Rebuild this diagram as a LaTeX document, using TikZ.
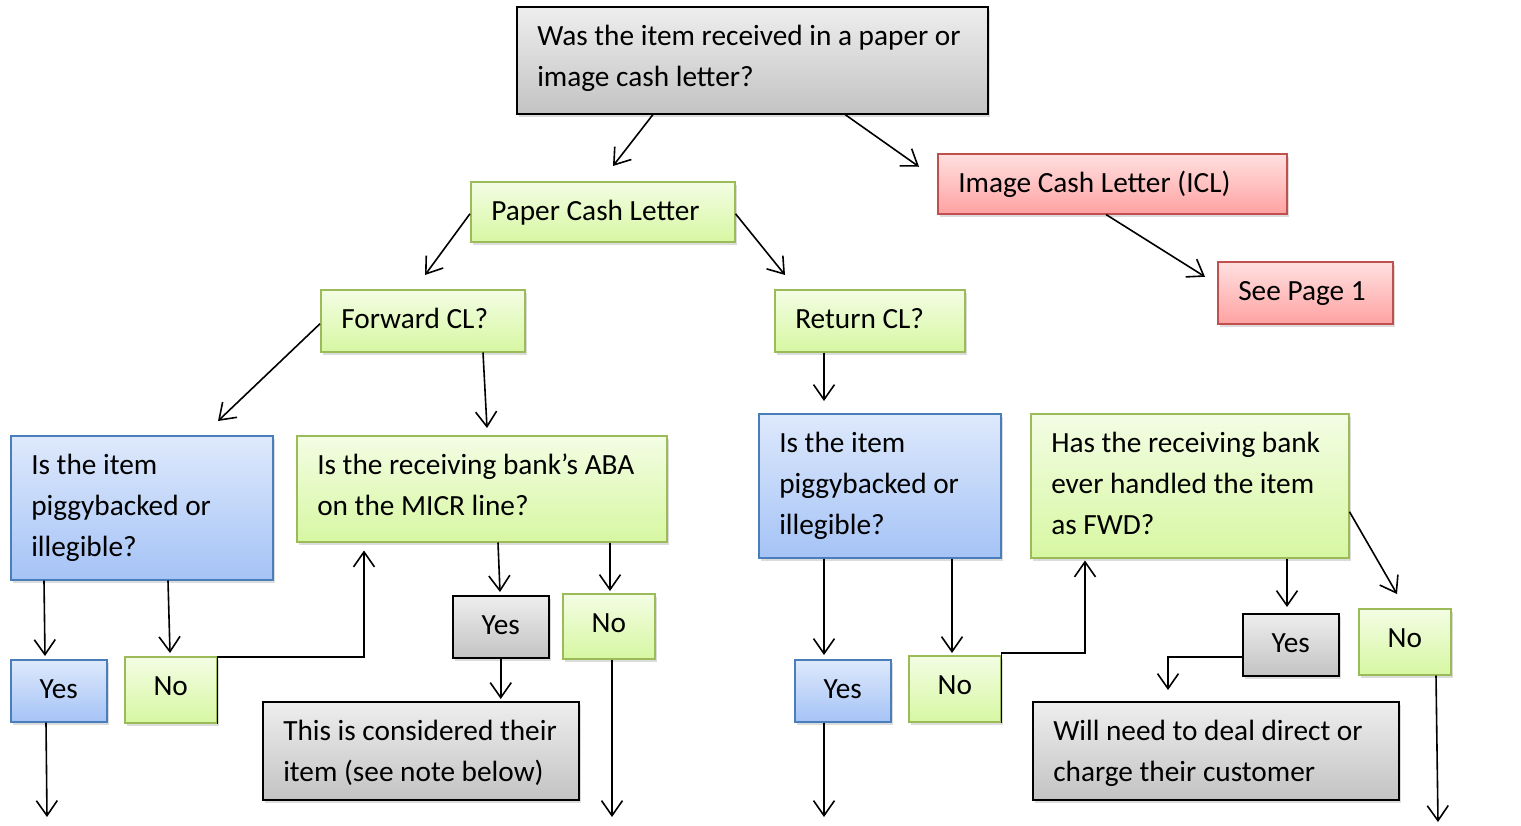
\documentclass[tikz,border=0pt]{standalone}
\usepackage{fontspec}
\setmainfont{Carlito}
\usetikzlibrary{arrows.meta,shadows,calc}
\definecolor{graytop}{HTML}{EEEEEE}
\definecolor{graybot}{HTML}{C3C3C3}
\definecolor{greentop}{HTML}{F3FDE4}
\definecolor{greenbot}{HTML}{D7F7A2}
\definecolor{greenline}{HTML}{9BBB59}
\definecolor{bluetop}{HTML}{DEE9FC}
\definecolor{bluebot}{HTML}{A5C3F6}
\definecolor{blueline}{HTML}{4A7EBB}
\definecolor{redtop}{HTML}{FFE0E0}
\definecolor{redbot}{HTML}{FFA2A2}
\definecolor{redline}{HTML}{C0504D}
\newcommand\dfont{\fontsize{29.3}{41}\selectfont}
\newcommand\tl[1]{\mbox{\spaceskip=0pt\xspaceskip=0pt #1}}
\tikzset{
  base/.style={rectangle, line width=1.5pt, font=\dfont, inner xsep=20.5pt, inner ysep=0pt,
    anchor=north west, drop shadow={shadow xshift=2.5pt, shadow yshift=-3pt, opacity=0.28}},
  lbox/.style 2 args={base, minimum width=#1pt, minimum height=#2pt, text width=#1pt-41pt, align=left,
    text height=39pt, text depth=#2pt-39pt},
  cbox/.style 2 args={base, minimum width=#1pt, minimum height=#2pt, align=center, inner xsep=2pt,
    text height=39pt, text depth=#2pt-39pt},
  grayb/.style={draw=black, top color=graytop, bottom color=graybot},
  greenb/.style={draw=greenline, top color=greentop, bottom color=greenbot},
  blueb/.style={draw=blueline, top color=bluetop, bottom color=bluebot},
  redb/.style={draw=redline, top color=redtop, bottom color=redbot},
  arr/.style={draw=black, line width=1.6pt, -{Straight Barb[length=15pt,width=21pt]}},
}
\begin{document}
\begin{tikzpicture}[x=1pt,y=-1pt]
\useasboundingbox (0,0) rectangle (1521,825);
% boxes
\node[lbox={471}{107}, grayb] (top) at (516,6) {\tl{Was the item received in a paper or}\\\tl{image cash letter?}};
\node[lbox={264}{60}, greenb] (paper) at (470,181) {\tl{Paper Cash Letter}};
\node[lbox={349}{60}, redb] (icl) at (937,153) {\tl{Image Cash Letter (ICL)}};
\node[lbox={175}{62}, redb] (see) at (1217,261) {\tl{See Page 1}};
\node[lbox={204}{62}, greenb] (fwd) at (320,289) {\tl{Forward CL?}};
\node[lbox={190}{62}, greenb] (ret) at (774,289) {\tl{Return CL?}};
\node[lbox={262}{144}, blueb] (pigl) at (10,435) {\tl{Is the item}\\\tl{piggybacked or}\\\tl{illegible?}};
\node[lbox={370}{106}, greenb] (aba) at (296,435) {\tl{Is the receiving bank’s ABA}\\\tl{on the MICR line?}};
\node[lbox={242}{144}, blueb] (pigr) at (758,413) {\tl{Is the item}\\\tl{piggybacked or}\\\tl{illegible?}};
\node[lbox={318}{144}, greenb] (has) at (1030,413) {\tl{Has the receiving bank}\\\tl{ever handled the item}\\\tl{as FWD?}};
\node[cbox={96}{62}, blueb] (yesl) at (10,659) {Yes};
\node[cbox={92}{66}, greenb] (nol) at (124,656) {No};
\node[cbox={96}{62}, grayb] (yesm) at (452,595) {Yes};
\node[cbox={92}{65}, greenb] (nom) at (562,593) {No};
\node[lbox={316}{98}, grayb] (cons) at (262,701) {\tl{This is considered their}\\\tl{item (see note below)}};
\node[cbox={96}{62}, blueb] (yesr) at (794,659) {Yes};
\node[cbox={92}{66}, greenb] (nor) at (908,655) {No};
\node[cbox={96}{62}, grayb] (yesg) at (1242,613) {Yes};
\node[cbox={92}{66}, greenb] (nofr) at (1358,608) {No};
\node[lbox={366}{98}, grayb] (deal) at (1032,701) {\tl{Will need to deal direct or}\\\tl{charge their customer}};
% free ends
\coordinate (endA) at (47,817);
\coordinate (endB) at (612,817);
\coordinate (endC) at (824,817);
\coordinate (endD) at (1438,822);
% connectors
\draw[arr] (653,0 |- top.south) -- ($(613,0 |- paper.north)+(0,-15)$);
\draw[arr] (845,0 |- top.south) -- ($(icl.west)+(-18,-17)$);
\draw[arr] ($(paper.west)+(0,2)$) -- ($(425,0 |- fwd.north)+(0,-14)$);
\draw[arr] ($(paper.east)+(0,2)$) -- ($(785,0 |- ret.north)+(0,-14)$);
\draw[arr] (1106,0 |- icl.south) -- ($(see.west)+(-12,-16)$);
\draw[arr] ($(fwd.west)+(0,3)$) -- ($(218,0 |- pigl.north)+(0,-14)$);
\draw[arr] (483,0 |- fwd.south) -- ($(487,0 |- aba.north)+(0,-7)$);
\draw[arr] (824,0 |- ret.south) -- ($(824,0 |- pigr.north)+(0,-12)$);
\draw[arr] (44,0 |- pigl.south) -- ($(45,0 |- yesl.north)+(0,-3)$);
\draw[arr] (168,0 |- pigl.south) -- ($(170,0 |- nol.north)+(0,-3)$);
\draw[arr] (498,0 |- aba.south) -- ($(500,0 |- yesm.north)+(0,-3)$);
\draw[arr] (610,0 |- aba.south) -- ($(610,0 |- nom.north)+(0,-2)$);
\draw[arr] (nol.south east) -- ($(nol.north east)+(0,1)$) -| ($(364,0 |- aba.south)+(0,8)$);
\draw[arr] (yesm.south) -- ($(yesm.south |- cons.north)+(0,-2)$);
\draw[arr] (612,0 |- nom.south) -- (endB);
\draw[arr] (46,0 |- yesl.south) -- (endA);
\draw[arr] (824,0 |- pigr.south) -- ($(824,0 |- yesr.north)+(0,-4)$);
\draw[arr] (952,0 |- pigr.south) -- ($(952,0 |- nor.north)+(0,-2)$);
\draw[arr] (824,0 |- yesr.south) -- (endC);
\draw[arr] (nor.south east) -- ($(nor.north east)+(0,-2)$) -| ($(1085,0 |- has.south)+(0,2)$);
\draw[arr] (1287,0 |- has.south) -- ($(1287,0 |- yesg.north)+(0,-6)$);
\draw[arr] ($(has.east)+(0,26)$) -- ($(1397,0 |- nofr.north)+(0,-14)$);
\draw[arr] ($(yesg.west)+(0,12)$) -| ($(1168,0 |- deal.north)+(0,-11)$);
\draw[arr] (1436,0 |- nofr.south) -- (endD);
\end{tikzpicture}
\end{document}
